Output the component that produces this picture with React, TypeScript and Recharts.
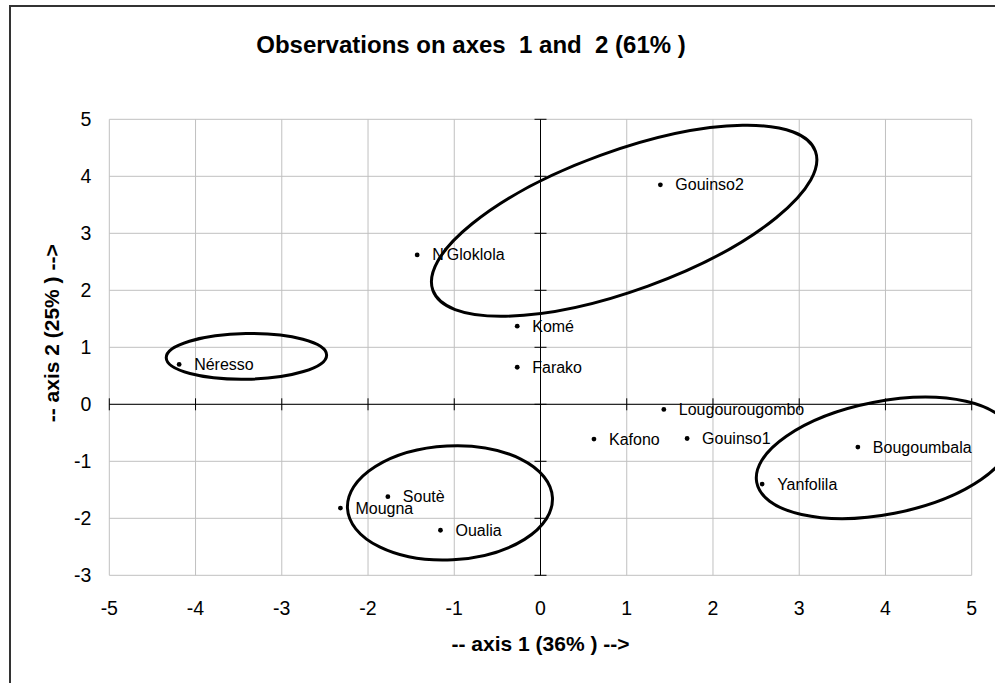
import React from 'react';
import {
  ScatterChart, Scatter, XAxis, YAxis, CartesianGrid, ReferenceLine, ReferenceArea,
} from 'recharts';

const FONT = 'Arial, "Liberation Sans", Helvetica, sans-serif';

// observations (factor scores on axes 1 and 2)
const sites = [
  'Néresso', "N'Gloklola", 'Komé', 'Farako', 'Gouinso2', 'Mougna', 'Soutè',
  'Oualia', 'Kafono', 'Lougourougombo', 'Gouinso1', 'Yanfolila', 'Bougoumbala',
];
const axis1 = [-4.19, -1.43, -0.27, -0.27, 1.39, -2.32, -1.77, -1.16, 0.62, 1.43, 1.7, 2.57, 3.68];
const axis2 = [0.7, 2.62, 1.37, 0.65, 3.85, -1.82, -1.62, -2.21, -0.61, -0.09, -0.6, -1.4, -0.75];

const xTicks = [-5, -4, -3, -2, -1, 0, 1, 2, 3, 4, 5];
const yTicks = [-3, -2, -1, 0, 1, 2, 3, 4, 5];

// hand-drawn group outlines: centre, half-axes (axis units), tilt (deg)
const groupCx = [0.97, -3.41, -1.05, 3.98];
const groupCy = [3.22, 0.84, -1.73, -0.94];
const groupRx = [2.36, 0.93, 1.19, 1.5];
const groupRy = [1.22, 0.4, 1.0, 0.99];
const groupTilt = [20, 1, 3, 11];

const points = sites.map((name, i) => ({ name, x: axis1[i], y: axis2[i] }));
const xTickMarks = xTicks.map(v => ({ x: v, y: 0 }));
const yTickMarks = yTicks.map(v => ({ x: 0, y: v }));

function SitePoint(props: any) {
  const { cx, cy, payload } = props;
  return (
    <g>
      <circle cx={cx} cy={cy} r={2.4} fill="#000" />
      <text x={cx + 15} y={cy + 5.5} fontSize={16} fontFamily={FONT} fill="#000">
        {payload.name}
      </text>
    </g>
  );
}

function VTick(props: any) {
  const { cx, cy } = props;
  return <line x1={cx} x2={cx} y1={cy - 6} y2={cy + 6} stroke="#000" strokeWidth={1} />;
}

function HTick(props: any) {
  const { cx, cy } = props;
  return <line x1={cx - 6} x2={cx + 6} y1={cy} y2={cy} stroke="#000" strokeWidth={1} />;
}

function GroupOutline(props: any) {
  const { x, y, width, height, tilt } = props;
  const cx = x + width / 2;
  const cy = y + height / 2;
  return (
    <ellipse
      cx={cx} cy={cy} rx={width / 2} ry={height / 2}
      transform={`rotate(${-tilt} ${cx} ${cy})`}
      fill="none" stroke="#000" strokeWidth={3}
    />
  );
}

function YTitle(props: any) {
  const { viewBox } = props;
  const x = viewBox.x + viewBox.width - 58;
  const y = viewBox.y + viewBox.height / 2 - 14;
  return (
    <text
      x={x} y={y} transform={`rotate(-90 ${x} ${y})`}
      textAnchor="middle" dominantBaseline="central"
      fontSize={21} fontWeight="bold" fontFamily={FONT} fill="#000"
      style={{ whiteSpace: 'pre' }}
    >
      -- axis 2 (25% ) --&gt;
    </text>
  );
}

export default function App() {
  const tick = { fontSize: 19.5, fill: '#000', fontFamily: FONT };
  return (
    <div style={{ position: 'absolute', left: 0, top: 0, width: 995, height: 683, overflow: 'hidden', background: '#fff' }}>
      <div style={{ position: 'absolute', left: 9, top: 5, width: 1100, height: 800, borderLeft: '2px solid #333', borderTop: '2px solid #333' }} />
      <div style={{ position: 'absolute', left: 0, top: 0 }}>
        <ScatterChart width={995} height={683} margin={{ top: 119.3, right: 23.3, bottom: 77.7, left: 49.3 }}>
          <CartesianGrid stroke="#c0c0c0" strokeWidth={1} />
          <XAxis
            type="number" dataKey="x" domain={[-5, 5]} ticks={xTicks} interval={0}
            axisLine={false} tickLine={false} tickSize={6} tickMargin={19.5} height={30}
            tick={tick}
            label={{ value: '-- axis 1 (36% ) -->', position: 'bottom', offset: 31, fontSize: 21, fontWeight: 'bold', fill: '#000', fontFamily: FONT }}
          />
          <YAxis
            type="number" dataKey="y" domain={[-3, 5]} ticks={yTicks} interval={0}
            axisLine={false} tickLine={false} tickSize={6} tickMargin={12} width={60}
            tick={tick}
            label={{ content: <YTitle /> }}
          />
          <ReferenceLine x={0} stroke="#000" strokeWidth={1} />
          <ReferenceLine y={0} stroke="#000" strokeWidth={1} />
          <Scatter data={xTickMarks} shape={<VTick />} isAnimationActive={false} />
          <Scatter data={yTickMarks} shape={<HTick />} isAnimationActive={false} />
          <Scatter data={points} shape={<SitePoint />} isAnimationActive={false} />
          {groupCx.map((c, i) => (
            <ReferenceArea
              key={i}
              x1={c - groupRx[i]} x2={c + groupRx[i]}
              y1={groupCy[i] - groupRy[i]} y2={groupCy[i] + groupRy[i]}
              ifOverflow="visible"
              shape={(p: any) => <GroupOutline {...p} tilt={groupTilt[i]} />}
            />
          ))}
        </ScatterChart>
      </div>
      <div style={{ position: 'absolute', left: 0, top: 31, width: 942, textAlign: 'center', fontSize: 24, fontWeight: 'bold', fontFamily: FONT, whiteSpace: 'pre', color: '#000' }}>
        Observations on axes  1 and  2 (61% )
      </div>
    </div>
  );
}
